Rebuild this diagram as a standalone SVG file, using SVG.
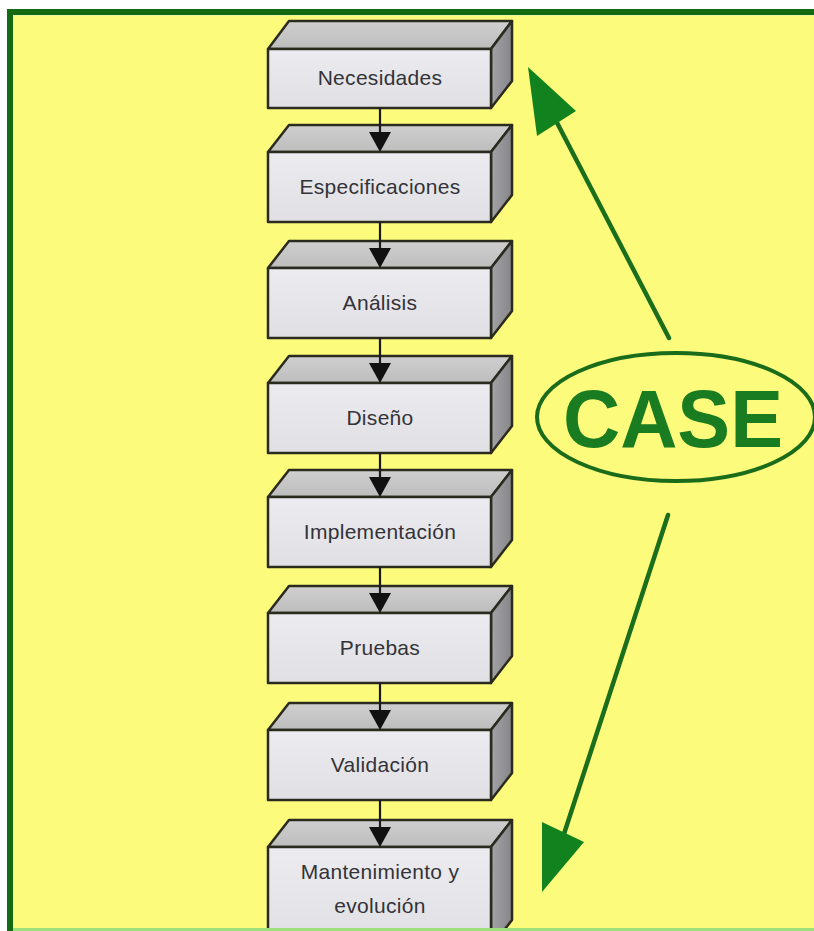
<svg xmlns="http://www.w3.org/2000/svg" width="814" height="931" viewBox="0 0 814 931">
  <style>
    .front { fill: url(#frontGrad); stroke: #2a2a1e; stroke-width: 2.5; stroke-linejoin: round; }
    .top { fill: url(#topGrad); stroke: #2a2a1e; stroke-width: 2.5; stroke-linejoin: round; }
    .side { fill: url(#sideGrad); stroke: #2a2a1e; stroke-width: 2.5; stroke-linejoin: round; }
    .label { font-family: "Liberation Sans", Arial, sans-serif; font-size: 21px; fill: #333338; text-anchor: middle; letter-spacing: 0.3px; }
    .flow { stroke: #1a1a1a; stroke-width: 2.2; fill: none; }
    .flowhead { fill: #111111; }
    .caseLine { stroke: #1a6e1c; stroke-width: 4.5; stroke-linecap: round; fill: none; }
    .caseHead { fill: #12821e; }
  </style>
  <defs>
    <linearGradient id="frontGrad" x1="0" y1="0" x2="0" y2="1">
      <stop offset="0" stop-color="#ececf0"/>
      <stop offset="1" stop-color="#e0e0e4"/>
    </linearGradient>
    <linearGradient id="topGrad" x1="0" y1="0" x2="0" y2="1">
      <stop offset="0" stop-color="#cfcfcf"/>
      <stop offset="1" stop-color="#bdbdbd"/>
    </linearGradient>
    <linearGradient id="sideGrad" x1="0" y1="0" x2="1" y2="0">
      <stop offset="0" stop-color="#a4a4a8"/>
      <stop offset="1" stop-color="#85858a"/>
    </linearGradient>
  </defs>

  <!-- page and frame -->
  <rect x="0" y="0" width="814" height="931" fill="#ffffff"/>
  <rect x="7" y="9" width="807" height="922" fill="#fdfb7c"/>
  <rect x="12" y="14" width="802" height="2" fill="#e6f8a0"/>
  <rect x="12" y="14" width="2" height="917" fill="#e6f8a0"/>
  <rect x="7" y="9" width="807" height="6" fill="#146a12"/>
  <rect x="7" y="9" width="6" height="922" fill="#146a12"/>

  <!-- process boxes -->
  <g id="necesidades">
    <polygon class="top" points="268,49 289,21 512,21 491,49"/>
    <polygon class="side" points="491,49 512,21 512,81 491,108"/>
    <rect class="front" x="268" y="49" width="223" height="59"/>
    <text class="label" x="380" y="85">Necesidades</text>
  </g>
  <g id="especificaciones">
    <polygon class="top" points="268,152 289,125 512,125 491,152"/>
    <polygon class="side" points="491,152 512,125 512,195 491,222"/>
    <rect class="front" x="268" y="152" width="223" height="70"/>
    <text class="label" x="380" y="194">Especificaciones</text>
  </g>
  <g id="analisis">
    <polygon class="top" points="268,268 289,241 512,241 491,268"/>
    <polygon class="side" points="491,268 512,241 512,311 491,338"/>
    <rect class="front" x="268" y="268" width="223" height="70"/>
    <text class="label" x="380" y="310">Análisis</text>
  </g>
  <g id="diseno">
    <polygon class="top" points="268,383 289,356 512,356 491,383"/>
    <polygon class="side" points="491,383 512,356 512,426 491,453"/>
    <rect class="front" x="268" y="383" width="223" height="70"/>
    <text class="label" x="380" y="425">Diseño</text>
  </g>
  <g id="implementacion">
    <polygon class="top" points="268,497 289,470 512,470 491,497"/>
    <polygon class="side" points="491,497 512,470 512,540 491,567"/>
    <rect class="front" x="268" y="497" width="223" height="70"/>
    <text class="label" x="380" y="539">Implementación</text>
  </g>
  <g id="pruebas">
    <polygon class="top" points="268,613 289,586 512,586 491,613"/>
    <polygon class="side" points="491,613 512,586 512,656 491,683"/>
    <rect class="front" x="268" y="613" width="223" height="70"/>
    <text class="label" x="380" y="655">Pruebas</text>
  </g>
  <g id="validacion">
    <polygon class="top" points="268,730 289,703 512,703 491,730"/>
    <polygon class="side" points="491,730 512,703 512,773 491,800"/>
    <rect class="front" x="268" y="730" width="223" height="70"/>
    <text class="label" x="380" y="772">Validación</text>
  </g>
  <g id="mantenimiento">
    <polygon class="top" points="268,847 289,820 512,820 491,847"/>
    <polygon class="side" points="491,847 512,820 512,920 491,947"/>
    <rect class="front" x="268" y="847" width="223" height="100"/>
    <text class="label" x="380" y="879">Mantenimiento y</text>
    <text class="label" x="380" y="913">evolución</text>
  </g>

  <!-- CASE label -->
  <g id="case">
    <ellipse cx="676" cy="417" rx="139" ry="64" fill="none" stroke="#1a6b1a" stroke-width="4"/>
    <text x="673" y="447" font-family="'Liberation Sans', Arial, sans-serif" font-weight="bold" font-size="82" fill="#1a7c20" text-anchor="middle" textLength="220" lengthAdjust="spacingAndGlyphs">CASE</text>
  </g>

  <!-- connectors -->
  <g id="connectors">
    <line class="flow" x1="380" y1="108" x2="380" y2="134"/>
    <polygon class="flowhead" points="369,132 391,132 380,152"/>
    <line class="flow" x1="380" y1="222" x2="380" y2="250"/>
    <polygon class="flowhead" points="369,248 391,248 380,268"/>
    <line class="flow" x1="380" y1="338" x2="380" y2="365"/>
    <polygon class="flowhead" points="369,363 391,363 380,383"/>
    <line class="flow" x1="380" y1="453" x2="380" y2="479"/>
    <polygon class="flowhead" points="369,477 391,477 380,497"/>
    <line class="flow" x1="380" y1="567" x2="380" y2="595"/>
    <polygon class="flowhead" points="369,593 391,593 380,613"/>
    <line class="flow" x1="380" y1="683" x2="380" y2="712"/>
    <polygon class="flowhead" points="369,710 391,710 380,730"/>
    <line class="flow" x1="380" y1="800" x2="380" y2="829"/>
    <polygon class="flowhead" points="369,827 391,827 380,847"/>

    <!-- CASE arrows -->
    <line class="caseLine" x1="669" y1="338" x2="553" y2="115"/>
    <polygon class="caseHead" points="528,67 576,111 537,136"/>
    <line class="caseLine" x1="668" y1="515" x2="562" y2="840"/>
    <polygon class="caseHead" points="542,892 542,822 584,842"/>
  </g>

  <!-- bottom edge -->
  <rect x="7" y="928" width="807" height="3" fill="#9ee07c"/>
  <rect x="7" y="928" width="6" height="3" fill="#146a12"/>
</svg>
